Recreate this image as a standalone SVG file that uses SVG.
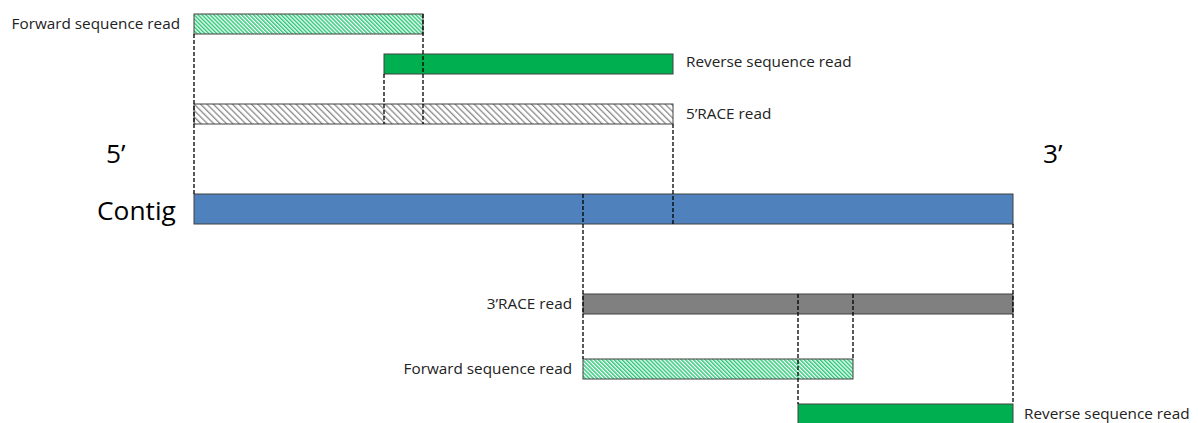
<svg xmlns="http://www.w3.org/2000/svg" width="1198" height="423" viewBox="0 0 1198 423">
<defs>
<pattern id="hatchGreen" patternUnits="userSpaceOnUse" width="2.8" height="2.8" patternTransform="rotate(-45)">
<rect width="2.8" height="2.8" fill="#ffffff"/>
<rect x="0" y="0" width="1.5" height="2.8" fill="#2ec878"/>
</pattern>
<pattern id="hatchGray" patternUnits="userSpaceOnUse" width="4.5" height="4.5" patternTransform="rotate(-45)">
<rect width="4.5" height="4.5" fill="#ffffff"/>
<rect x="0" y="0" width="1.3" height="4.5" fill="#8a8a8a"/>
</pattern>
</defs>
<style>
.bar{stroke:#404040;stroke-width:1}
.dash{stroke:#000;stroke-width:1.3;stroke-dasharray:4 2;fill:none}
.lbl{font-family:"Open Sans","Liberation Sans",sans-serif;font-size:15.3px;fill:#222}
.big{font-family:"Open Sans","Liberation Sans",sans-serif;font-size:26.3px;fill:#000}
</style>
<rect width="1198" height="423" fill="#fff"/>
<g id="fwd1"><rect class="bar" x="194" y="14" width="229" height="20" fill="url(#hatchGreen)"/><text class="lbl" x="180" y="29" text-anchor="end">Forward sequence read</text></g>
<g id="rev1"><rect class="bar" x="384" y="54" width="289" height="20" fill="#00b050"/><text class="lbl" x="686" y="67">Reverse sequence read</text></g>
<g id="race5"><rect class="bar" x="194" y="104" width="479" height="20" fill="url(#hatchGray)"/><text class="lbl" x="686" y="119">5’RACE read</text></g>
<g id="end5"><text class="big" x="106" y="163">5’</text></g>
<g id="end3"><text class="big" x="1043" y="163">3’</text></g>
<g id="contig"><rect class="bar" x="194" y="194" width="819" height="30" fill="#4f81bd"/><text class="big" x="97" y="220">Contig</text></g>
<g id="race3"><rect class="bar" x="583" y="294" width="430" height="20" fill="#808080"/><text class="lbl" x="572" y="309" text-anchor="end">3’RACE read</text></g>
<g id="fwd2"><rect class="bar" x="583" y="359" width="270" height="20" fill="url(#hatchGreen)"/><text class="lbl" x="572" y="374" text-anchor="end">Forward sequence read</text></g>
<g id="rev2"><rect class="bar" x="798" y="404" width="215" height="22" fill="#00b050"/><text class="lbl" x="1024" y="419">Reverse sequence read</text></g>
<g id="connectors">
<line class="dash" x1="194" y1="34" x2="194" y2="196"/>
<line class="dash" x1="423" y1="14" x2="423" y2="124"/>
<line class="dash" x1="384" y1="74" x2="384" y2="124"/>
<line class="dash" x1="673" y1="124" x2="673" y2="224"/>
<line class="dash" x1="583" y1="194" x2="583" y2="359"/>
<line class="dash" x1="1013" y1="224" x2="1013" y2="404"/>
<line class="dash" x1="798" y1="294" x2="798" y2="404"/>
<line class="dash" x1="853" y1="294" x2="853" y2="359"/>
</g>
</svg>
